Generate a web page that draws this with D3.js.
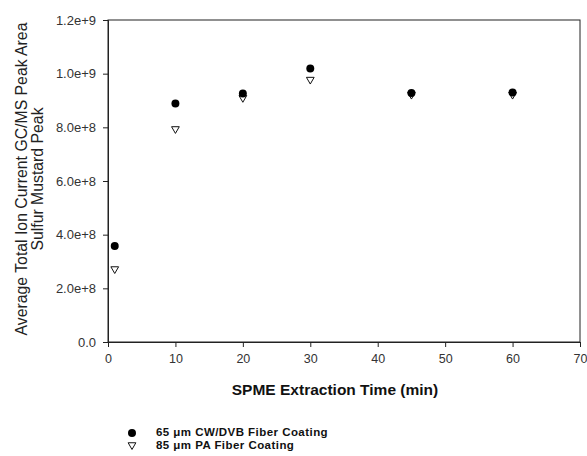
<!DOCTYPE html>
<html>
<head>
<meta charset="utf-8">
<script src="https://cdn.jsdelivr.net/npm/d3@7"></script>
<style>
  body { margin: 0; background: #fff; }
  text { font-family: Arial, "Liberation Sans", sans-serif; }
</style>
</head>
<body>
<div id="chart"></div>
<script>
// extraction times (min)
var times = [1, 10, 20, 30, 45, 60];
// 65 um CW/DVB fiber
var cwdvb = [3.58e8, 8.89e8, 9.26e8, 1.019e9, 9.28e8, 9.3e8];
// 85 um PA fiber
var pa = [2.72e8, 7.94e8, 9.1e8, 9.78e8, 9.22e8, 9.22e8];

var xTicks = [0, 10, 20, 30, 40, 50, 60, 70];
var yTicks = [0, 2e8, 4e8, 6e8, 8e8, 1e9, 1.2e9];
var yTickLabels = ["0.0", "2.0e+8", "4.0e+8", "6.0e+8", "8.0e+8", "1.0e+9", "1.2e+9"];
var legendLabels = ["65 \u03bcm CW/DVB Fiber Coating", "85 \u03bcm PA Fiber Coating"];

var width = 587, height = 456;
var margin = {top: 20, right: 7, bottom: 114, left: 108};

var svg = d3.select("#chart").append("svg")
    .attr("width", width)
    .attr("height", height);

var x = d3.scaleLinear().domain([0, 70]).range([margin.left, width - margin.right]);
var y = d3.scaleLinear().domain([0, 1.2e9]).range([height - margin.bottom, margin.top]);

// frame
svg.append("rect")
    .attr("x", x(0))
    .attr("y", y(1.2e9))
    .attr("width", x(70) - x(0))
    .attr("height", y(0) - y(1.2e9))
    .attr("fill", "none")
    .attr("stroke", "#222")
    .attr("stroke-width", 1);

var xAxis = svg.append("g")
    .attr("transform", "translate(0," + y(0) + ")")
    .call(d3.axisBottom(x).tickValues(xTicks).tickSize(5).tickPadding(7).tickFormat(d3.format("d")));

var yAxis = svg.append("g")
    .attr("transform", "translate(" + x(0) + ",0)")
    .call(d3.axisLeft(y).tickValues(yTicks).tickSize(5).tickPadding(7)
        .tickFormat(function(d, i) { return yTickLabels[i]; }));

[xAxis, yAxis].forEach(function(g) {
    g.selectAll("path").attr("stroke", "#222");
    g.selectAll("line").attr("stroke", "#222");
    g.selectAll("text")
        .attr("fill", "#333")
        .style("font-family", "Arial, 'Liberation Sans', sans-serif");
});
xAxis.selectAll("text").style("font-size", "12.5px");
yAxis.selectAll("text").style("font-size", "13px");

// axis titles
svg.append("text")
    .attr("x", 335)
    .attr("y", 395)
    .attr("text-anchor", "middle")
    .style("font-size", "15.5px")
    .style("font-weight", "bold")
    .attr("fill", "#111")
    .text("SPME Extraction Time (min)");

var yTitle = svg.append("text")
    .attr("transform", "translate(27,179) rotate(-90)")
    .attr("text-anchor", "middle")
    .style("font-size", "15.8px")
    .attr("fill", "#222");
yTitle.append("tspan").attr("x", 0).attr("dy", 0).text("Average Total Ion Current GC/MS Peak Area");
yTitle.append("tspan").attr("x", 0).attr("dy", 16).text("Sulfur Mustard Peak");

var circleSym = d3.symbol().type(d3.symbolCircle).size(50);
var triSym = d3.symbol().type(d3.symbolTriangle).size(26);

// PA series first (open triangles), then CW/DVB filled circles on top
svg.append("g").selectAll("path")
    .data(times)
    .enter().append("path")
    .attr("d", triSym)
    .attr("transform", function(d, i) { return "translate(" + x(d) + "," + y(pa[i]) + ") rotate(180)"; })
    .attr("fill", "#fff")
    .attr("stroke", "#111")
    .attr("stroke-width", 1);

svg.append("g").selectAll("path")
    .data(times)
    .enter().append("path")
    .attr("d", circleSym)
    .attr("transform", function(d, i) { return "translate(" + x(d) + "," + y(cwdvb[i]) + ")"; })
    .attr("fill", "#000");

// legend
var legend = svg.append("g");
legend.append("path")
    .attr("d", circleSym)
    .attr("transform", "translate(132,433)")
    .attr("fill", "#000");
legend.append("path")
    .attr("d", triSym)
    .attr("transform", "translate(132,445) rotate(180)")
    .attr("fill", "#fff")
    .attr("stroke", "#111");
legend.selectAll("text")
    .data(legendLabels)
    .enter().append("text")
    .attr("x", 156)
    .attr("y", function(d, i) { return 436 + i * 12.5; })
    .style("font-size", "11.5px")
    .style("letter-spacing", "0.45px")
    .style("font-weight", "bold")
    .attr("fill", "#111")
    .text(function(d) { return d; });
</script>
</body>
</html>
